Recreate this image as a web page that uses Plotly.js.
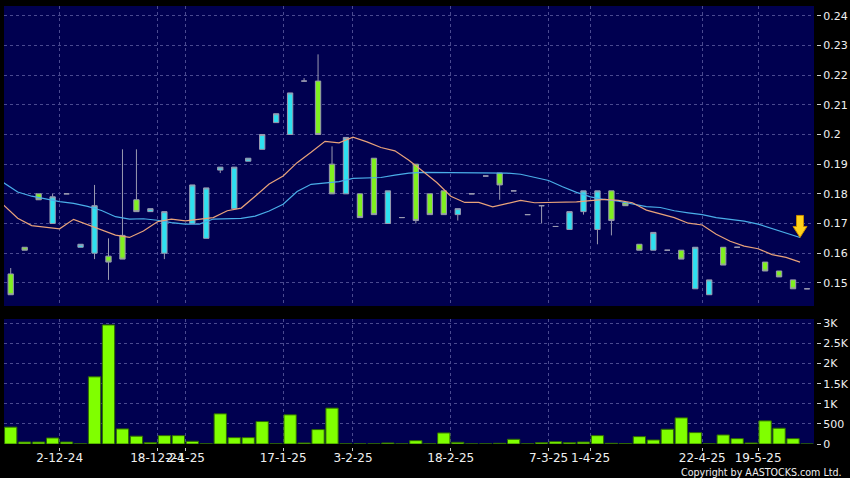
<!DOCTYPE html>
<html>
<head>
<meta charset="utf-8">
<script src="https://cdn.plot.ly/plotly-3.0.1.min.js"></script>
<style>
html,body{margin:0;padding:0;background:#000;}
#chart{width:850px;height:478px;}
</style>
</head>
<body>
<div id="chart"></div>
<script>
// ---- data ----
const dateLabels = ['2-12-24','18-12-24','2-1-25','17-1-25','3-2-25','18-2-25','7-3-25','1-4-25','22-4-25','19-5-25'];
const datePos = [3.5, 10.5, 12.5, 19.5, 24.5, 31.5, 38.5, 41.5, 49.5, 53.5];

const openP  = [0.153,0.162,0.180,0.170,0.180,0.162,0.160,0.159,0.166,0.178,
                0.174,0.160,null ,0.170,0.165,0.188,0.175,0.191,0.195,0.204,
                0.200,0.218,0.218,0.190,0.180,0.180,0.192,0.170,0.172,0.190,
                0.180,0.181,0.173,0.180,0.186,0.187,0.181,0.173,0.176,0.169,
                0.168,0.174,0.168,0.181,0.177,0.163,0.161,0.161,0.161,0.148,
                0.146,0.162,0.162,null ,0.157,0.154,0.151,0.148];
const highP  = [0.155,0.162,0.180,0.180,0.180,0.163,0.183,0.165,0.195,0.195,
                0.175,0.174,null ,0.183,0.182,0.189,0.189,0.192,0.200,0.207,
                0.214,0.219,0.227,0.196,0.199,0.180,0.192,0.181,0.172,0.190,
                0.180,0.181,0.175,0.180,0.186,0.187,0.181,0.173,0.176,0.169,
                0.174,0.181,0.181,0.181,0.177,0.163,0.167,0.161,0.161,0.162,
                0.151,0.162,0.162,null ,0.157,0.154,0.151,0.148];
const lowP   = [0.146,0.161,0.178,0.170,0.180,0.162,0.158,0.151,0.158,0.174,
                0.174,0.158,null ,0.170,0.165,0.187,0.175,0.191,0.195,0.204,
                0.200,0.218,0.200,0.180,0.180,0.172,0.173,0.170,0.172,0.170,
                0.173,0.173,0.171,0.180,0.186,0.178,0.181,0.173,0.170,0.169,
                0.168,0.173,0.163,0.166,0.176,0.161,0.161,0.161,0.158,0.148,
                0.146,0.156,0.162,null ,0.154,0.152,0.148,0.148];
const closeP = [0.146,0.161,0.178,0.179,0.180,0.163,0.176,0.157,0.158,0.174,
                0.175,0.174,null ,0.183,0.182,0.189,0.189,0.192,0.200,0.207,
                0.214,0.218,0.200,0.180,0.199,0.172,0.173,0.181,0.172,0.171,
                0.173,0.173,0.175,0.180,0.186,0.183,0.181,0.173,0.176,0.169,
                0.174,0.181,0.181,0.171,0.176,0.161,0.167,0.161,0.158,0.162,
                0.151,0.156,0.162,null ,0.154,0.152,0.148,0.148];

const volume = [420,50,50,150,50,3,1670,2960,375,195,
                33,208,208,67,3,750,158,158,558,3,
                725,25,358,892,3,3,3,25,3,83,
                3,275,42,3,3,17,117,3,33,58,
                33,50,208,17,8,183,100,367,650,283,
                3,225,133,25,575,392,133,0];

const maShort = [0.1762,0.1718,0.1693,0.1687,0.1682,0.1714,0.1697,0.1679,0.1661,0.1653,
                 0.1675,0.1706,0.1715,0.1709,0.1715,0.1720,0.1743,0.1752,0.1792,0.1833,
                 0.1860,0.1905,0.1940,0.1977,0.1972,0.1991,0.1975,0.1956,0.1945,0.1913,
                 0.1876,0.1838,0.1792,0.1771,0.1771,0.1756,0.1767,0.1778,0.1770,0.1771,
                 0.1771,0.1773,0.1777,0.1781,0.1778,0.1770,0.1745,0.1733,0.1720,0.1701,
                 0.1695,0.1664,0.1640,0.1624,0.1615,0.1595,0.1586,0.1570];
const maLong  = [0.1837,0.1806,0.1792,0.1783,0.1774,0.1768,0.1758,0.1744,0.1723,0.1715,
                 0.1716,0.1711,0.1703,0.1698,0.1698,0.1715,0.1716,0.1717,0.1725,0.1742,
                 0.1765,0.1808,0.1832,0.1837,0.1841,0.1852,0.1854,0.1855,0.1863,0.1870,
                 0.1872,0.1872,0.1872,0.1872,0.1872,0.1871,0.1870,0.1866,0.1856,0.1845,
                 0.1824,0.1805,0.1790,0.1781,0.1775,0.1766,0.1757,0.1754,0.1743,0.1736,
                 0.1730,0.1720,0.1714,0.1708,0.1698,0.1683,0.1668,0.1653];

const priceTickVals = [0.15,0.16,0.17,0.18,0.19,0.20,0.21,0.22,0.23,0.24];
const priceTickText = ['0.15','0.16','0.17','0.18','0.19','0.2','0.21','0.22','0.23','0.24'];
const volTickVals = [0,500,1000,1500,2000,2500,3000];
const volTickText = ['0','500','1K','1.5K','2K','2.5K','3K'];

// ---- build traces ----
const idx = openP.map((_, i) => i);
const isDoji = i => openP[i] !== null && openP[i] === closeP[i];
const mainIdx = idx.filter(i => openP[i] !== null && !isDoji(i));
const dojiIdx = idx.filter(isDoji);
const pick = (arr, ids) => ids.map(i => arr[i]);

const CYAN = '#2EE0F0', GREEN = '#80F020', WICK = '#9a9ab0';
const GRID = '#4a4a90';
const FONT = 'DejaVu Sans, Verdana, sans-serif';
const FONT_C = 'DejaVu Sans Condensed, Liberation Sans Narrow, DejaVu Sans, sans-serif';

const traces = [
  { type:'bar', x: idx, y: volume, xaxis:'x2', yaxis:'y2',
    marker:{color:'#80FF00', line:{color:'#2f6a00', width:1}}, hoverinfo:'skip' },
  { type:'scatter', mode:'lines', x: idx.map(i => i - 0.5), y: maLong,
    line:{color:'#4aaee8', width:1.2}, hoverinfo:'skip' },
  { type:'scatter', mode:'lines', x: idx.map(i => i - 0.5), y: maShort,
    line:{color:'#e8a27a', width:1.2}, hoverinfo:'skip' },
  { type:'candlestick', x: mainIdx,
    open: pick(openP, mainIdx), high: pick(highP, mainIdx),
    low: pick(lowP, mainIdx), close: pick(closeP, mainIdx),
    increasing:{fillcolor: CYAN, line:{color: WICK, width:1}},
    decreasing:{fillcolor: GREEN, line:{color: WICK, width:1}},
    whiskerwidth: 0, hoverinfo:'skip' },
  { type:'candlestick', x: dojiIdx,
    open: pick(openP, dojiIdx), high: pick(highP, dojiIdx),
    low: pick(lowP, dojiIdx), close: pick(closeP, dojiIdx),
    increasing:{fillcolor: WICK, line:{color: WICK, width:1}},
    decreasing:{fillcolor: WICK, line:{color: WICK, width:1}},
    whiskerwidth: 0, hoverinfo:'skip' }
];

const last = maLong.length - 1;
const tickFont = {family: FONT, size: 11, color: '#f0f0f0'};
const xBase = {
  domain:[0, 810/812], range:[-0.48, 57.5], tickmode:'array',
  tickvals: datePos, showgrid:true, gridcolor: GRID, griddash:'3px,3px',
  zeroline:false, showline:false, fixedrange:true, tickangle:0
};

const layout = {
  width:850, height:478,
  margin:{l:4, r:34, t:6, b:31},
  paper_bgcolor:'#000000', plot_bgcolor:'#000050',
  showlegend:false, hovermode:false,
  boxgap:0.62, boxgroupgap:0, boxmode:'overlay', bargap:0.12,
  xaxis: Object.assign({}, xBase, {anchor:'y', showticklabels:false, ticks:'',
    rangeslider:{visible:false}}),
  yaxis: {domain:[141/441, 1], range:[0.1422, 0.2433], anchor:'free',
    position: 1, side:'right', tickmode:'array', tickvals: priceTickVals,
    ticktext: priceTickText, ticks:'outside', ticklen:4, tickcolor:'#cccccc',
    tickfont: tickFont, showgrid:true, gridcolor: GRID, griddash:'3px,3px',
    zeroline:false, showline:false},
  xaxis2: Object.assign({}, xBase, {anchor:'free', position:0, ticktext: dateLabels,
    ticks:'outside', ticklen:3, tickcolor:'#cccccc', ticklabelstandoff:-3,
    tickfont:{family: FONT, size: 12, color:'#f0f0f0'}, rangeslider:{visible:false}}),
  yaxis2: {domain:[3/441, 128/441], range:[0, 3108], anchor:'free', position: 1,
    side:'right', tickmode:'array', tickvals: volTickVals, ticktext: volTickText,
    ticks:'outside', ticklen:4, tickcolor:'#cccccc', tickfont: tickFont,
    showgrid:true, gridcolor: GRID, griddash:'3px,3px', zeroline:false, showline:false},
  shapes:[{
    type:'path', xref:'x', yref:'y',
    xsizemode:'pixel', ysizemode:'pixel',
    xanchor: last - 0.5, yanchor: maLong[last],
    path:'M 0 0 L -7 11 L -3.5 11 L -3.5 22 L 3.5 22 L 3.5 11 L 7 11 Z',
    fillcolor:'#FFD21A', line:{color:'#C88A00', width:1}
  }],
  annotations:[{
    text:'Copyright by AASTOCKS.com Ltd.', xref:'paper', yref:'paper',
    x:1.0, xshift:28, y:0, yshift:-25, xanchor:'right', yanchor:'middle', showarrow:false,
    font:{family: FONT_C, size: 10.6, color:'#f0f0f0'}
  }]
};

Plotly.newPlot('chart', traces, layout, {staticPlot:true, displayModeBar:false});
</script>
</body>
</html>
